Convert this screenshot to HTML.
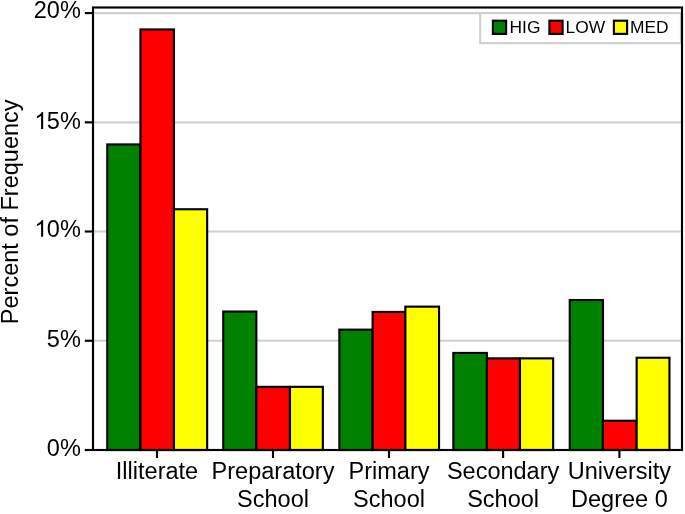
<!DOCTYPE html>
<html><head><meta charset="utf-8"><style>
html,body{margin:0;padding:0;background:#fff;width:685px;height:514px;overflow:hidden}
svg{display:block;will-change:transform;font-family:"Liberation Sans",sans-serif;fill:#000}
text{font-family:"Liberation Sans",sans-serif;fill:#000}
</style></head><body>
<svg width="685" height="514" viewBox="0 0 685 514">
<rect x="0" y="0" width="685" height="514" fill="#fff"/>
<line x1="93.0" y1="13.1" x2="682.0" y2="13.1" stroke="#ced0d3" stroke-width="2.14"/>
<line x1="93.0" y1="122.35" x2="682.0" y2="122.35" stroke="#ced0d3" stroke-width="2.14"/>
<line x1="93.0" y1="231.5" x2="682.0" y2="231.5" stroke="#ced0d3" stroke-width="2.14"/>
<line x1="93.0" y1="340.75" x2="682.0" y2="340.75" stroke="#ced0d3" stroke-width="2.14"/>
<rect x="480.2" y="13.1" width="200.8" height="30.0" fill="#fff" stroke="#ced0d3" stroke-width="2.14"/>
<rect x="107.25" y="144.45" width="33.20" height="305.55" fill="#008200" stroke="#000" stroke-width="2.14"/>
<rect x="140.45" y="29.45" width="33.50" height="420.55" fill="#ff0000" stroke="#000" stroke-width="2.14"/>
<rect x="173.95" y="209.25" width="33.20" height="240.75" fill="#ffff00" stroke="#000" stroke-width="2.14"/>
<rect x="223.25" y="311.55" width="33.10" height="138.45" fill="#008200" stroke="#000" stroke-width="2.14"/>
<rect x="256.35" y="386.85" width="33.60" height="63.15" fill="#ff0000" stroke="#000" stroke-width="2.14"/>
<rect x="289.95" y="386.85" width="32.90" height="63.15" fill="#ffff00" stroke="#000" stroke-width="2.14"/>
<rect x="339.35" y="329.65" width="33.30" height="120.35" fill="#008200" stroke="#000" stroke-width="2.14"/>
<rect x="372.65" y="311.95" width="32.70" height="138.05" fill="#ff0000" stroke="#000" stroke-width="2.14"/>
<rect x="405.35" y="306.65" width="33.70" height="143.35" fill="#ffff00" stroke="#000" stroke-width="2.14"/>
<rect x="453.35" y="352.95" width="33.60" height="97.05" fill="#008200" stroke="#000" stroke-width="2.14"/>
<rect x="486.95" y="358.35" width="33.00" height="91.65" fill="#ff0000" stroke="#000" stroke-width="2.14"/>
<rect x="519.95" y="358.35" width="33.20" height="91.65" fill="#ffff00" stroke="#000" stroke-width="2.14"/>
<rect x="569.75" y="300.05" width="33.20" height="149.95" fill="#008200" stroke="#000" stroke-width="2.14"/>
<rect x="602.95" y="420.75" width="33.70" height="29.25" fill="#ff0000" stroke="#000" stroke-width="2.14"/>
<rect x="636.65" y="357.75" width="32.80" height="92.25" fill="#ffff00" stroke="#000" stroke-width="2.14"/>
<rect x="93.0" y="7.5" width="589.0" height="442.5" fill="none" stroke="#000" stroke-width="2.14"/>
<line x1="84.8" y1="13.1" x2="93.0" y2="13.1" stroke="#000" stroke-width="2.14"/>
<line x1="84.8" y1="122.35" x2="93.0" y2="122.35" stroke="#000" stroke-width="2.14"/>
<line x1="84.8" y1="231.5" x2="93.0" y2="231.5" stroke="#000" stroke-width="2.14"/>
<line x1="84.8" y1="340.75" x2="93.0" y2="340.75" stroke="#000" stroke-width="2.14"/>
<line x1="84.8" y1="450.0" x2="93.0" y2="450.0" stroke="#000" stroke-width="2.14"/>
<line x1="157.0" y1="450.0" x2="157.0" y2="458" stroke="#000" stroke-width="2.14"/>
<line x1="273.0" y1="450.0" x2="273.0" y2="458" stroke="#000" stroke-width="2.14"/>
<line x1="389.0" y1="450.0" x2="389.0" y2="458" stroke="#000" stroke-width="2.14"/>
<line x1="503.1" y1="450.0" x2="503.1" y2="458" stroke="#000" stroke-width="2.14"/>
<line x1="619.4" y1="450.0" x2="619.4" y2="458" stroke="#000" stroke-width="2.14"/>
<text x="80.8" y="18.1" text-anchor="end" font-size="23.5">20%</text>
<path d="M763 0H583V1147Q518 1085 412.5 1023Q307 961 223 930V1104Q374 1175 487 1276Q600 1377 647 1472H763Z" transform="translate(34.4 128.9) scale(0.011475 -0.011475)"/>
<text x="80.8" y="128.9" text-anchor="end" font-size="23.5">5%</text>
<path d="M763 0H583V1147Q518 1085 412.5 1023Q307 961 223 930V1104Q374 1175 487 1276Q600 1377 647 1472H763Z" transform="translate(34.4 236.8) scale(0.011475 -0.011475)"/>
<text x="80.8" y="236.8" text-anchor="end" font-size="23.5">0%</text>
<text x="80.8" y="347.2" text-anchor="end" font-size="23.5">5%</text>
<text x="80.8" y="455.5" text-anchor="end" font-size="23.5">0%</text>
<text x="157.0" y="479.0" text-anchor="middle" font-size="23.5">Illiterate</text>
<text x="273.0" y="479.0" text-anchor="middle" font-size="23.5">Preparatory</text>
<text x="273.0" y="507.0" text-anchor="middle" font-size="23.5">School</text>
<text x="389.0" y="479.0" text-anchor="middle" font-size="23.5">Primary</text>
<text x="389.0" y="507.0" text-anchor="middle" font-size="23.5">School</text>
<text x="503.1" y="479.0" text-anchor="middle" font-size="23.5">Secondary</text>
<text x="503.1" y="507.0" text-anchor="middle" font-size="23.5">School</text>
<text x="619.4" y="479.0" text-anchor="middle" font-size="23.5">University</text>
<text x="619.4" y="507.0" text-anchor="middle" font-size="23.5">Degree 0</text>
<text transform="translate(18,211.8) rotate(-90)" text-anchor="middle" font-size="23.5">Percent of Frequency</text>
<rect x="492.9" y="20.7" width="13.2" height="13.2" fill="#008200" stroke="#000" stroke-width="2.14"/>
<text x="509.5" y="32.8" font-size="17.4">HIG</text>
<rect x="549.4" y="20.7" width="13.2" height="13.2" fill="#ff0000" stroke="#000" stroke-width="2.14"/>
<text x="565.6" y="32.8" font-size="17.4">LOW</text>
<rect x="613.9" y="20.7" width="13.2" height="13.2" fill="#ffff00" stroke="#000" stroke-width="2.14"/>
<text x="630.0" y="32.8" font-size="17.4">MED</text>
</svg>
</body></html>
